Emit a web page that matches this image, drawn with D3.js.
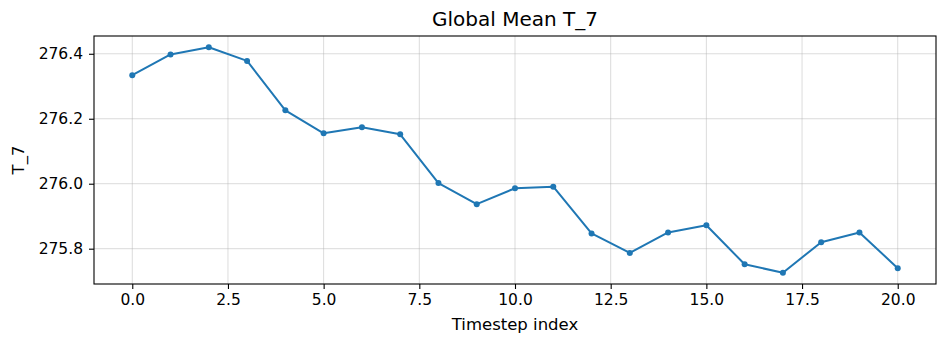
<!DOCTYPE html>
<html>
<head>
<meta charset="utf-8">
<script src="https://cdn.jsdelivr.net/npm/d3@7"></script>
<style>
  body { margin: 0; background: #fff; }
  svg { display: block; font-family: "DejaVu Sans", sans-serif; }
</style>
</head>
<body>
<svg id="chart" width="947" height="344"></svg>
<script>
// 數據：每個時間步的全域平均 T_7
const timesteps = [0, 1, 2, 3, 4, 5, 6, 7, 8, 9, 10, 11, 12, 13, 14, 15, 16, 17, 18, 19, 20];
const meanValues = [276.334, 276.398, 276.420, 276.378, 276.226, 276.155, 276.174, 276.152,
    276.002, 275.937, 275.986, 275.991, 275.847, 275.787, 275.850, 275.872, 275.752,
    275.726, 275.820, 275.850, 275.740];
const xTicks = [0, 2.5, 5, 7.5, 10, 12.5, 15, 17.5, 20];
const yTicks = [275.8, 276.0, 276.2, 276.4];

const svg = d3.select('#chart');
const margin = { top: 36, right: 11, bottom: 60, left: 94 };
const width = 947 - margin.left - margin.right;
const height = 344 - margin.top - margin.bottom;

const data = timesteps.map((t, i) => ({ t: t, v: meanValues[i] }));

// 比例尺（模仿 matplotlib 5% 邊距）
const xMin = d3.min(timesteps), xMax = d3.max(timesteps);
const xPad = (xMax - xMin) * 0.05;
const yMin = d3.min(meanValues), yMax = d3.max(meanValues);
const yPad = (yMax - yMin) * 0.05;

const xScale = d3.scaleLinear().domain([xMin - xPad, xMax + xPad]).range([0, width]);
const yScale = d3.scaleLinear().domain([yMin - yPad, yMax + yPad]).range([height, 0]);

const g = svg.append('g').attr('transform', `translate(${margin.left}, ${margin.top})`);

// 網格線
g.selectAll('.vgrid').data(xTicks).enter().append('line')
    .attr('x1', d => xScale(d)).attr('x2', d => xScale(d))
    .attr('y1', 0).attr('y2', height)
    .attr('stroke', '#b0b0b0').attr('stroke-opacity', 0.45).attr('stroke-width', 1);
g.selectAll('.hgrid').data(yTicks).enter().append('line')
    .attr('y1', d => yScale(d)).attr('y2', d => yScale(d))
    .attr('x1', 0).attr('x2', width)
    .attr('stroke', '#b0b0b0').attr('stroke-opacity', 0.45).attr('stroke-width', 1);

// 座標軸
const xAxis = g.append('g')
    .attr('transform', `translate(0, ${height})`)
    .call(d3.axisBottom(xScale).tickValues(xTicks).tickFormat(d3.format('.1f')).tickSize(5).tickPadding(5));
const yAxis = g.append('g')
    .call(d3.axisLeft(yScale).tickValues(yTicks).tickFormat(d3.format('.1f')).tickSize(5).tickPadding(6));

[xAxis, yAxis].forEach(ax => {
    ax.select('.domain').remove();
    ax.selectAll('text').style('font-size', '15.5px').attr('fill', '#000').style('font-family', '"DejaVu Sans", sans-serif');
    ax.selectAll('line').attr('stroke', '#000').attr('stroke-width', 1.1);
});

// 外框
g.append('rect')
    .attr('x', 0).attr('y', 0).attr('width', width).attr('height', height)
    .attr('fill', 'none').attr('stroke', '#000').attr('stroke-width', 1.1);

// 折線
const line = d3.line().x(d => xScale(d.t)).y(d => yScale(d.v));
g.append('path').datum(data)
    .attr('fill', 'none').attr('stroke', '#1f77b4').attr('stroke-width', 2)
    .attr('stroke-linejoin', 'round').attr('d', line);

g.selectAll('.pt').data(data).enter().append('circle')
    .attr('cx', d => xScale(d.t)).attr('cy', d => yScale(d.v))
    .attr('r', 3).attr('fill', '#1f77b4');

// 標題與軸標籤
svg.append('text')
    .attr('x', margin.left + width / 2).attr('y', 26)
    .attr('text-anchor', 'middle').style('font-size', '20px')
    .text('Global Mean T_7');

svg.append('text')
    .attr('x', margin.left + width / 2).attr('y', 330)
    .attr('text-anchor', 'middle').style('font-size', '16.5px')
    .text('Timestep index');

svg.append('text')
    .attr('transform', `translate(24, ${margin.top + height / 2}) rotate(-90)`)
    .attr('text-anchor', 'middle').style('font-size', '16.5px')
    .text('T_7');
</script>
</body>
</html>
